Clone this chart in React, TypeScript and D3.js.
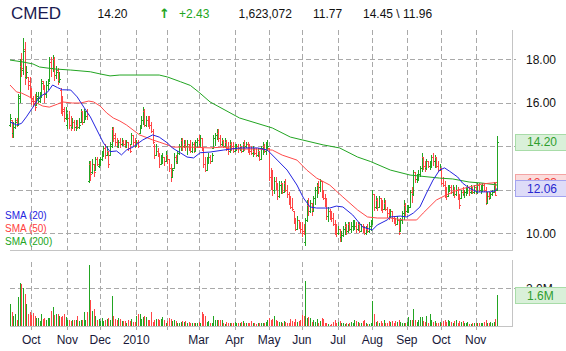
import React, { useEffect, useRef } from "react";
import * as d3 from "d3";

const ticker = "CMED";
const lastVolume = 1623072;

// daily bars, Sep 2009 - Nov 2010
const opens = [
  15.0,15.2,14.6,14.9,15.2,15.0,16.2,17.7,17.5,18.5,
  17.2,17.2,17.0,16.5,16.2,16.1,15.9,16.2,16.1,16.4,
  17.0,16.8,16.4,16.8,17.0,17.9,17.6,18.0,17.3,17.5,
  17.0,16.6,15.8,15.7,15.3,15.0,15.3,15.0,14.9,15.1,
  14.9,15.0,14.9,15.1,15.6,15.1,15.3,15.6,12.4,13.2,
  12.8,13.2,12.9,13.4,13.1,13.3,13.4,13.6,13.9,13.6,
  13.8,13.6,14.0,14.8,14.5,14.2,14.0,14.2,14.1,14.2,
  14.1,14.0,14.2,13.9,14.1,14.5,14.2,14.0,14.2,14.6,
  14.9,15.2,15.6,15.0,15.2,15.1,15.0,14.7,14.0,13.6,
  13.8,13.6,13.2,13.4,13.5,13.3,13.6,13.4,13.0,12.6,
  13.0,13.5,13.3,13.7,14.0,14.3,14.0,14.1,14.0,14.1,
  13.9,13.8,14.1,13.8,14.2,14.3,14.1,14.4,13.9,13.2,
  12.9,13.4,13.5,13.3,13.9,14.4,14.5,14.6,14.4,14.1,
  14.3,14.0,14.2,13.9,13.8,14.1,14.0,13.8,13.9,14.0,
  13.9,14.0,13.8,14.1,14.0,14.1,13.9,13.8,13.7,13.8,
  13.7,13.6,13.8,13.4,13.9,14.0,13.8,13.9,13.9,12.6,
  12.3,12.0,12.4,12.2,11.7,12.2,12.3,11.9,12.3,12.0,
  11.8,11.4,11.2,11.0,10.5,10.2,10.6,10.3,10.2,10.1,
  9.6,10.6,11.3,11.0,11.4,11.0,11.6,12.0,12.2,12.1,
  12.4,11.8,11.6,11.3,10.8,11.0,10.8,10.7,10.4,10.1,
  10.0,10.2,9.8,9.9,10.2,10.3,10.1,10.4,10.2,10.3,
  10.2,10.3,10.2,10.4,10.1,10.3,10.1,10.0,10.2,10.1,
  10.3,10.5,11.8,11.2,11.5,11.2,11.6,11.2,11.1,11.4,
  11.1,10.9,10.8,11.0,10.7,10.5,10.4,10.6,10.1,10.6,
  10.9,11.3,11.0,11.1,11.2,11.9,11.8,12.8,12.5,12.6,
  12.7,13.0,13.5,13.1,13.0,13.3,13.1,13.2,13.5,13.3,
  13.5,13.1,12.9,13.0,12.3,12.2,11.8,11.7,12.0,12.1,
  11.9,12.0,11.8,12.0,11.7,11.6,11.9,11.8,11.9,12.0,
  12.1,11.9,12.0,11.9,12.1,11.9,12.2,12.0,12.1,12.2,
  12.0,11.4,11.7,11.6,11.8,11.9,12.2,12.0,
];
const highs = [
  15.5,15.2,15.1,15.3,15.3,16.4,18.0,18.3,19.0,18.8,
  17.7,17.2,17.2,16.7,16.3,16.4,16.5,16.5,16.5,17.1,
  17.0,16.8,17.0,17.1,18.1,18.1,18.2,18.1,17.7,17.6,
  17.4,16.7,16.3,15.8,15.8,15.5,15.6,15.4,15.3,15.2,
  15.2,15.2,15.3,15.7,15.6,15.7,15.6,15.7,13.3,13.3,
  13.4,13.2,13.5,13.5,13.4,13.5,13.8,14.0,14.1,14.0,
  13.8,14.2,14.9,14.9,14.6,14.4,14.3,14.4,14.4,14.3,
  14.3,14.3,14.2,14.1,14.6,14.5,14.4,14.3,14.3,15.0,
  15.4,15.8,15.7,15.4,15.4,15.4,15.1,14.8,14.1,14.1,
  13.9,13.7,13.6,13.7,13.5,13.8,13.6,13.4,13.2,13.0,
  13.7,13.6,13.8,14.1,14.4,14.4,14.3,14.3,14.3,14.1,
  14.3,14.2,14.2,14.3,14.4,14.5,14.5,14.4,13.9,13.5,
  13.5,13.7,13.6,13.7,14.5,14.6,14.8,14.8,14.5,14.4,
  14.3,14.4,14.3,14.2,14.3,14.2,14.2,14.1,14.1,14.1,
  14.1,14.0,14.2,14.3,14.2,14.2,14.1,14.0,14.0,13.9,
  13.9,13.9,13.8,14.0,14.2,14.1,14.2,14.3,13.9,13.0,
  12.9,12.6,12.6,12.3,12.4,12.4,12.3,12.4,12.5,12.2,
  11.9,11.7,11.6,11.0,10.7,10.8,10.6,10.5,10.5,10.4,
  10.7,11.5,11.6,11.5,11.4,11.7,12.1,12.3,12.4,12.5,
  12.4,12.0,11.8,11.6,11.2,11.1,11.0,10.9,10.6,10.4,
  10.3,10.2,10.1,10.3,10.5,10.4,10.5,10.5,10.5,10.6,
  10.6,10.5,10.5,10.5,10.4,10.4,10.3,10.3,10.4,10.5,
  10.6,12.0,11.8,11.7,11.6,11.7,11.6,11.5,11.6,11.5,
  11.2,11.1,11.1,11.0,10.8,10.7,10.8,10.6,10.7,11.0,
  11.5,11.4,11.3,11.3,12.0,12.1,12.9,12.8,12.7,12.9,
  13.1,13.7,13.5,13.3,13.4,13.3,13.3,13.6,13.7,13.6,
  13.5,13.3,13.2,13.0,12.6,12.4,12.1,12.2,12.2,12.2,
  12.2,12.1,12.2,12.1,11.8,12.0,12.1,12.0,12.1,12.2,
  12.1,12.2,12.1,12.2,12.1,12.3,12.3,12.2,12.3,12.3,
  12.1,11.9,11.9,11.9,12.0,12.35,12.3,14.45,
];
const lows = [
  14.9,14.4,14.4,14.8,14.9,15.0,16.0,17.2,17.3,16.8,
  17.1,16.6,16.2,15.9,15.8,15.6,15.9,16.0,16.0,16.2,
  16.6,16.0,16.2,16.6,17.0,17.2,17.4,17.0,17.1,16.8,
  16.9,15.5,15.4,15.1,15.2,14.8,14.8,14.7,14.8,14.7,
  14.7,14.8,14.8,15.1,15.0,15.1,15.2,15.2,12.3,12.4,
  12.7,12.6,12.9,13.1,13.0,13.1,13.3,13.5,13.4,13.6,
  13.0,13.6,13.9,14.2,14.0,13.9,13.9,13.9,14.0,14.0,
  13.9,13.9,13.8,13.7,14.1,14.0,13.9,14.0,13.9,14.6,
  14.8,15.0,14.9,14.9,14.9,14.8,14.6,14.1,13.4,13.6,
  13.5,13.0,13.2,13.2,13.1,13.3,13.2,12.8,12.35,12.6,
  13.0,13.2,13.2,13.6,13.8,13.8,13.9,13.8,13.6,13.8,
  13.7,13.7,13.7,13.8,13.9,13.9,13.9,13.8,13.0,12.8,
  12.9,13.2,13.2,13.3,13.9,14.0,14.3,14.2,14.0,14.0,
  13.9,14.0,13.8,13.6,13.7,13.8,13.7,13.8,13.8,13.7,
  13.8,13.7,13.8,13.8,13.9,13.7,13.6,13.6,13.5,13.6,
  13.5,13.5,13.3,13.4,13.6,13.7,13.6,13.8,12.4,12.0,
  11.7,11.8,12.0,11.5,11.6,11.8,11.8,11.9,11.9,11.6,
  11.3,11.1,11.0,10.4,10.1,10.2,10.2,10.0,9.8,9.9,
  9.4,10.5,10.8,10.9,10.8,11.0,11.3,11.6,11.8,11.9,
  11.6,11.5,11.2,10.6,10.5,10.6,10.5,10.3,9.9,9.8,
  9.9,9.6,9.6,9.8,9.9,9.9,10.0,10.1,10.0,10.1,
  10.2,10.0,10.1,10.0,10.1,10.0,9.9,9.9,10.0,10.0,
  10.1,10.4,11.0,11.1,11.0,11.2,11.0,10.9,11.1,11.0,
  10.7,10.6,10.7,10.5,10.4,10.3,10.4,9.9,10.1,10.4,
  10.6,10.8,10.9,10.9,11.2,11.4,11.7,12.3,12.3,12.4,
  12.6,12.8,12.9,12.8,12.9,13.0,12.9,13.0,13.1,13.0,
  13.0,12.8,12.9,12.2,12.1,11.6,11.5,11.7,11.9,11.8,
  11.7,11.6,11.7,11.5,11.1,11.6,11.7,11.6,11.7,11.8,
  11.7,11.8,11.8,11.8,11.8,11.8,11.9,11.8,11.9,11.9,
  11.3,11.4,11.5,11.6,11.7,11.9,11.7,11.96,
];
const closes = [
  15.3,14.6,14.9,15.1,15.0,16.3,17.8,17.6,18.4,17.2,
  17.4,16.8,16.4,16.1,16.0,15.8,16.3,16.2,16.4,16.9,
  16.8,16.4,16.8,16.9,17.9,17.6,18.0,17.3,17.4,17.0,
  17.1,15.7,15.6,15.3,15.6,15.3,15.0,14.9,15.1,14.9,
  15.0,14.9,15.0,15.6,15.1,15.3,15.4,15.5,13.1,12.7,
  13.2,12.8,13.4,13.2,13.3,13.4,13.7,13.9,13.6,13.8,
  13.2,14.1,14.7,14.4,14.2,14.0,14.2,14.1,14.2,14.1,
  14.0,14.2,13.9,13.8,14.5,14.2,14.0,14.2,14.0,14.9,
  15.2,15.6,15.0,15.2,15.1,15.0,14.7,14.2,13.6,13.8,
  13.6,13.2,13.4,13.5,13.3,13.6,13.4,13.0,12.6,12.9,
  13.5,13.3,13.7,14.0,14.3,14.0,14.1,14.0,14.1,13.9,
  13.8,14.1,13.8,14.2,14.3,14.1,14.4,13.9,13.2,12.9,
  13.4,13.5,13.3,13.6,14.4,14.5,14.6,14.4,14.1,14.3,
  14.0,14.2,13.9,13.8,14.1,14.0,13.8,13.9,14.0,13.9,
  14.0,13.8,14.1,14.0,14.1,13.9,13.8,13.7,13.8,13.7,
  13.6,13.8,13.4,13.9,14.0,13.8,14.1,14.0,12.6,12.3,
  12.0,12.4,12.2,11.7,12.2,12.3,11.9,12.3,12.0,11.8,
  11.4,11.2,11.1,10.5,10.2,10.6,10.3,10.2,10.0,10.0,
  10.6,11.3,11.0,11.4,11.0,11.6,12.0,12.2,12.1,12.4,
  11.8,11.6,11.3,10.8,11.0,10.8,10.7,10.4,10.1,10.0,
  10.2,9.8,9.9,10.2,10.3,10.1,10.4,10.2,10.3,10.4,
  10.3,10.2,10.4,10.1,10.3,10.1,10.0,10.2,10.1,10.3,
  10.4,11.8,11.2,11.5,11.2,11.6,11.2,11.1,11.4,11.1,
  10.9,10.8,11.0,10.7,10.5,10.4,10.6,10.0,10.6,10.9,
  11.3,11.0,11.1,11.2,11.9,11.8,12.8,12.5,12.6,12.7,
  13.0,13.5,13.1,13.0,13.3,13.1,13.2,13.5,13.3,13.5,
  13.1,12.9,13.0,12.3,12.2,11.8,11.7,12.0,12.1,11.9,
  12.0,11.8,12.0,11.7,11.3,11.9,11.8,11.9,12.0,12.1,
  11.9,12.0,11.9,12.1,11.9,12.2,12.0,12.1,12.2,12.0,
  11.4,11.7,11.6,11.8,11.9,12.2,11.77,14.2,
];
// millions of shares
const volumes = [
  1.15,0.74,0.51,0.64,0.34,1.52,2.25,2.2,1.98,1.69,
  1.15,0.63,0.74,0.59,0.68,0.54,0.42,0.42,0.25,0.63,
  0.37,0.42,0.34,0.42,0.42,0.81,0.98,0.59,0.64,0.64,
  0.51,0.46,0.54,0.64,0.46,0.29,0.34,0.25,0.34,0.34,
  0.3,0.54,0.25,0.29,0.34,0.74,0.3,0.76,3.2,1.39,
  0.8,0.88,0.54,0.34,0.37,0.25,0.42,0.25,0.3,0.37,
  0.42,0.3,1.56,0.54,0.37,0.29,0.42,0.37,0.25,0.25,
  0.25,0.14,0.34,0.25,0.37,0.2,0.2,0.51,0.63,0.63,
  0.37,0.46,0.54,0.46,0.29,0.29,0.74,0.2,0.29,0.37,
  0.37,0.3,0.37,0.46,0.29,0.17,0.25,0.42,0.37,0.25,
  0.29,0.25,0.14,0.14,0.2,0.25,0.2,0.25,0.14,0.2,
  0.17,0.14,0.14,0.17,0.17,0.2,0.14,0.74,0.63,0.54,
  0.2,0.25,0.17,0.17,0.54,0.29,0.3,0.34,0.29,0.34,
  0.17,0.12,0.2,0.14,0.17,0.17,0.14,0.2,0.17,0.17,
  0.14,0.2,0.25,0.14,0.17,0.17,0.17,0.25,0.17,0.14,
  0.08,0.14,0.17,0.14,0.17,0.14,0.2,0.29,0.42,0.34,
  0.37,0.51,0.34,0.25,0.2,0.2,0.17,0.25,0.2,0.14,
  0.17,0.37,0.25,0.2,0.37,0.2,0.25,0.34,0.59,0.51,
  2.37,0.42,0.46,0.42,0.2,0.29,0.2,0.37,0.17,0.25,
  0.42,0.37,0.17,0.17,0.08,0.03,0.08,0.2,0.29,0.17,
  0.2,0.25,0.17,0.14,0.12,0.14,0.08,0.17,0.2,0.17,
  0.29,0.25,0.2,0.14,0.17,0.25,0.29,0.14,0.08,0.08,
  0.14,1.32,0.65,0.2,0.25,0.17,0.25,0.17,0.29,0.17,
  0.14,0.25,0.2,0.25,0.17,0.25,0.2,0.34,0.2,0.14,
  0.14,0.17,0.2,0.46,0.29,0.34,0.9,0.29,0.2,0.34,
  0.46,0.46,0.25,0.2,0.51,0.17,0.64,0.29,0.2,0.25,
  0.17,0.17,0.2,0.17,0.25,0.29,0.2,0.29,0.25,0.2,
  0.17,0.25,0.29,0.17,0.25,0.2,0.25,0.17,0.14,0.2,
  0.08,0.08,0.14,0.14,0.17,0.14,0.14,0.17,0.14,0.2,
  0.3,0.17,0.14,0.2,0.14,0.2,0.39,1.62,
];

// moving averages (bar index, value)
const sma20Days = [0,4,7,10,14,18,23,26,29,32,37,41,45,49,53,57,61,65,68,71,75,81,87,91,96,99,104,108,112,116,122,130,140,151,157,163,169,175,179,183,187,195,199,203,209,215,221,224,230,232,238,242,246,250,254,258,262,265,268,273,276,280,285,293,296,297];
const sma20 = [15.12,14.98,15.05,15.35,15.8,16.27,16.5,16.82,16.7,16.6,16.59,16.27,15.8,15.35,14.75,14.15,13.75,13.78,13.6,13.82,13.96,14.29,14.52,14.42,14.15,13.92,13.69,13.5,13.46,13.7,13.73,13.82,13.92,13.92,13.82,13.36,12.9,12.21,11.61,11.2,11.15,11.15,11.24,11.2,10.83,10.28,10.14,10.37,10.6,10.74,10.78,10.74,10.92,11.2,11.84,12.44,12.9,13.0,12.85,12.58,12.3,12.07,11.89,11.9,11.94,12.06];
const sma50Days = [0,4,7,12,15,20,24,29,32,38,43,48,51,55,59,63,67,71,75,79,84,87,91,96,99,110,122,130,138,151,160,166,175,181,187,195,203,212,218,224,232,240,248,252,260,266,273,280,288,297];
const sma50 = [16.82,16.5,16.45,16.27,16.04,15.85,15.8,15.94,16.04,15.99,15.99,16.08,16.04,15.85,15.53,15.3,15.16,14.98,14.75,14.52,14.38,14.29,14.19,14.06,13.96,13.96,13.92,13.96,13.87,13.87,13.82,13.59,13.36,12.9,12.53,12.21,11.66,11.06,10.74,10.69,10.69,10.6,10.6,10.92,11.52,11.75,11.98,12.12,12.26,12.33];
const sma200Days = [0,8,14,18,27,37,49,55,61,67,91,96,104,110,115,122,140,160,171,191,201,212,220,232,244,262,270,280,288,297];
const sma200 = [17.97,17.88,17.79,17.65,17.56,17.51,17.43,17.33,17.24,17.28,17.28,17.19,16.97,16.8,16.5,16.04,15.3,14.84,14.42,14.06,13.92,13.5,13.29,12.9,12.67,12.53,12.49,12.35,12.3,12.21];

const monthDays = [13, 35, 55, 77, 96, 115, 137, 158, 178, 200, 221, 242, 263, 284];
const monthLabels = ["Oct", "Nov", "Dec", "2010", "", "Mar", "Apr", "May", "Jun", "Jul", "Aug", "Sep", "Oct", "Nov"];
const priceTicks = [10, 12, 14, 16, 18];
const volumeTicks = [2];

const GREEN = "#22a522";
const RED = "#ff4646";
const BLUE = "#2424e0";

const App = () => {
  const ref = useRef<SVGSVGElement>(null);

  useEffect(() => {
    const svg = d3.select(ref.current);
    svg.selectAll("*").remove();

    const n = closes.length;
    const x = d3.scaleLinear().domain([0, n - 1]).range([10, 497]);
    const yP = d3.scaleLinear().domain([10, 18]).range([233, 59.4]);
    const yV = d3.scaleLinear().domain([0, 2]).range([326, 288]);
    const snap = (v: number) => Math.round(v) + 0.5;

    // grid
    const grid = svg.append("g")
      .attr("stroke", "#a9a9a9")
      .attr("stroke-dasharray", "5,3")
      .attr("shape-rendering", "crispEdges");
    priceTicks.forEach(v => {
      grid.append("line").attr("x1", 10).attr("x2", 516)
        .attr("y1", snap(yP(v))).attr("y2", snap(yP(v)));
    });
    volumeTicks.forEach(v => {
      grid.append("line").attr("x1", 10).attr("x2", 516)
        .attr("y1", snap(yV(v))).attr("y2", snap(yV(v)));
    });
    monthDays.forEach(d => {
      const xx = snap(x(d));
      grid.append("line").attr("x1", xx).attr("x2", xx).attr("y1", 30).attr("y2", 250);
      grid.append("line").attr("x1", xx).attr("x2", xx).attr("y1", 262).attr("y2", 330);
    });

    // panel frames
    const frame = svg.append("g").attr("stroke", "#c4c4c4").attr("shape-rendering", "crispEdges");
    frame.append("line").attr("x1", 10).attr("x2", 512).attr("y1", 250.5).attr("y2", 250.5);
    frame.append("line").attr("x1", 512.5).attr("x2", 512.5).attr("y1", 30).attr("y2", 251);
    frame.append("line").attr("x1", 10).attr("x2", 512).attr("y1", 326.5).attr("y2", 326.5);
    frame.append("line").attr("x1", 512.5).attr("x2", 512.5).attr("y1", 260).attr("y2", 327);

    // volume bars
    svg.append("g").attr("shape-rendering", "crispEdges")
      .selectAll("rect")
      .data(volumes)
      .enter()
      .append("rect")
      .attr("x", (_, i) => Math.round(x(i)))
      .attr("width", 1)
      .attr("y", d => yV(d))
      .attr("height", d => yV(0) - yV(d))
      .attr("fill", (_, i) => closes[i] >= opens[i] ? GREEN : RED);

    // price bars
    svg.append("g").attr("shape-rendering", "crispEdges").attr("fill", "none")
      .selectAll("path")
      .data(closes)
      .enter()
      .append("path")
      .attr("d", (c, i) => {
        const xi = snap(x(i));
        const o = Math.round(yP(opens[i])) + 0.5;
        const cc = Math.round(yP(c)) + 0.5;
        return `M${xi},${yP(highs[i])}V${yP(lows[i])}M${xi - 1.5},${o}H${xi}M${xi},${cc}H${xi + 1.5}`;
      })
      .attr("stroke", (c, i) => c >= opens[i] ? GREEN : RED)
      .attr("stroke-width", 1);

    // moving averages
    const line = d3.line<[number, number]>().x(d => x(d[0])).y(d => yP(d[1]));
    const smas: [number[], number[], string][] = [
      [sma200Days, sma200, GREEN],
      [sma50Days, sma50, "#ff4a4a"],
      [sma20Days, sma20, BLUE],
    ];
    smas.forEach(([days, vals, color]) => {
      svg.append("path")
        .attr("d", line(days.map((d, k) => [d, vals[k]] as [number, number])))
        .attr("fill", "none")
        .attr("stroke", color)
        .attr("stroke-width", 1);
    });

    const font = "'Liberation Sans', Arial, sans-serif";

    // right axis labels
    priceTicks.forEach(v => {
      svg.append("text").attr("x", 526).attr("y", yP(v) + 4.5)
        .attr("font-size", 12).attr("font-family", font).attr("fill", "#111")
        .text(d3.format(".2f")(v));
    });
    volumeTicks.forEach(v => {
      svg.append("text").attr("x", 526).attr("y", yV(v) + 4.5)
        .attr("font-size", 12).attr("font-family", font).attr("fill", "#111")
        .text(d3.format(".1f")(v) + "M");
    });

    // last value boxes (they sit over the axis labels, as in the original)
    const boxes = [
      { y: yP(sma50[sma50.length - 1]), text: d3.format(".2f")(sma50[sma50.length - 1]), fill: "#fbdcdc", stroke: "#f4a4a4", color: "#f04040" },
      { y: yP(sma20[sma20.length - 1]), text: d3.format(".2f")(sma20[sma20.length - 1]), fill: "#dedcf8", stroke: "#a4a4f0", color: "#2828d0" },
      { y: yP(closes[n - 1]), text: d3.format(".2f")(closes[n - 1]), fill: "#d9f0d9", stroke: "#a8dca8", color: "#2e9e2e" },
      { y: yV(volumes[n - 1]), text: d3.format(".1f")(volumes[n - 1]) + "M", fill: "#d9f0d9", stroke: "#a8dca8", color: "#2e9e2e" },
    ];
    boxes.forEach(b => {
      svg.append("rect").attr("x", 515.5).attr("y", Math.round(b.y - 8) + 0.5)
        .attr("width", 52).attr("height", 16)
        .attr("fill", b.fill).attr("stroke", b.stroke);
      svg.append("text").attr("x", 527).attr("y", b.y + 4.5)
        .attr("font-size", 12).attr("font-family", font).attr("fill", b.color)
        .text(b.text);
    });

    // month labels
    monthDays.forEach((d, k) => {
      svg.append("text").attr("x", x(d)).attr("y", 344)
        .attr("text-anchor", "middle")
        .attr("font-size", 12).attr("font-family", font).attr("fill", "#181838")
        .text(monthLabels[k]);
    });

    // legend
    const legend = [["SMA (20)", BLUE], ["SMA (50)", "#ff4040"], ["SMA (200)", GREEN]];
    legend.forEach(([label, color], k) => {
      svg.append("text").attr("x", 5).attr("y", 219 + k * 13)
        .attr("font-size", 10).attr("font-family", font).attr("fill", color)
        .text(label);
    });

    // header
    const change = closes[n - 1] - closes[n - 2];
    const header = svg.append("g").attr("font-family", font);
    header.append("text").attr("x", 11).attr("y", 18.5).attr("font-size", 17).attr("fill", "#1a1a50").text(ticker);
    header.append("text").attr("x", 97.5).attr("y", 17.5).attr("font-size", 12).attr("fill", "#111")
      .text(d3.format(".2f")(closes[n - 1]));
    header.append("text").attr("x", 159).attr("y", 17.5).attr("font-size", 13).attr("font-weight", "bold")
      .attr("fill", GREEN).attr("font-family", "'DejaVu Sans', sans-serif").text("\u2191");
    header.append("text").attr("x", 179).attr("y", 17.5).attr("font-size", 12).attr("fill", GREEN)
      .text("+" + d3.format(".2f")(change));
    header.append("text").attr("x", 238.5).attr("y", 17.5).attr("font-size", 12).attr("fill", "#111")
      .text(d3.format(",")(lastVolume));
    header.append("text").attr("x", 313).attr("y", 17.5).attr("font-size", 12).attr("fill", "#111")
      .text(d3.format(".2f")(closes[n - 2]));
    header.append("text").attr("x", 363).attr("y", 17.5).attr("font-size", 12).attr("fill", "#111")
      .text(`${d3.format(".2f")(highs[n - 1])} \\ ${d3.format(".2f")(lows[n - 1])}`);
  }, []);

  return (
    <svg
      ref={ref}
      width={566}
      height={351}
      style={{ position: "absolute", left: 0, top: 0, background: "#fff" }}
    />
  );
};

export default App;
